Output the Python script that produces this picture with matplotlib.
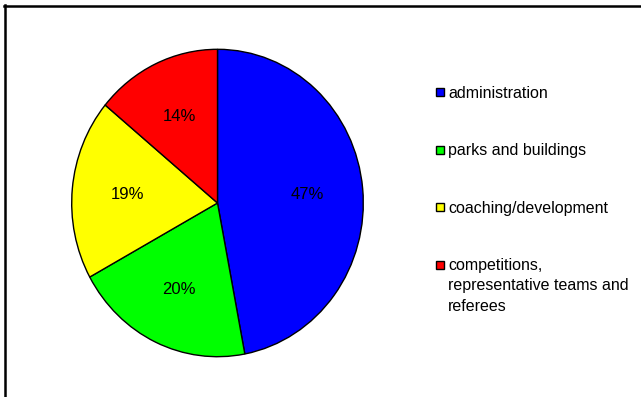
import matplotlib.pyplot as plt
from matplotlib.lines import Line2D
from matplotlib.patches import Rectangle

plt.rcParams['font.family'] = ['Liberation Sans', 'DejaVu Sans']

categories = ['administration', 'parks and buildings', 'coaching/development',
              'competitions,\nrepresentative teams and\nreferees']
shares = [47, 20, 19, 14]
colors = ['#0000FF', '#00FF00', '#FFFF00', '#FF0000']

W, H = 641, 397
fig = plt.figure(figsize=(W / 100, H / 100), dpi=100)

def px(x, y):
    # pixel position (from top-left) to figure fraction
    return x / W, 1 - y / H

# pie axes, slightly taller than wide
l, t, r, b = 71.7, 49.3, 363.3, 356.7
ax = fig.add_axes([l / W, 1 - b / H, (r - l) / W, (b - t) / H])
wedges, texts, autotexts = ax.pie(
    shares, colors=colors, startangle=90, counterclock=False,
    autopct='%d%%', pctdistance=0.62,
    wedgeprops=dict(edgecolor='black', linewidth=1.0),
    textprops=dict(fontsize=12, color='black'))
ax.set_aspect('auto')
ax.set_xlim(-1, 1)
ax.set_ylim(-1, 1)
ax.axis('off')

# legend on the right
for i, (name, c) in enumerate(zip(categories, colors)):
    yc = 92 + 57.5 * i
    x0, y0 = px(436, yc + 4)
    fig.add_artist(Rectangle((x0, y0), 8 / W, 8 / H, transform=fig.transFigure,
                             facecolor=c, edgecolor='black', linewidth=1.0))
    tx, ty = px(448, yc - 6.5)
    fig.text(tx, ty, name, fontsize=11.5, va='top', ha='left', linespacing=1.45)

# frame lines along top and left edges
fig.add_artist(Line2D([4 / W, 1], [1 - 6.1 / H] * 2, transform=fig.transFigure,
                      color='black', linewidth=1.8))
fig.add_artist(Line2D([5.1 / W] * 2, [0, 1 - 5 / H], transform=fig.transFigure,
                      color='black', linewidth=1.8))

fig.savefig('out.png', dpi=100)
